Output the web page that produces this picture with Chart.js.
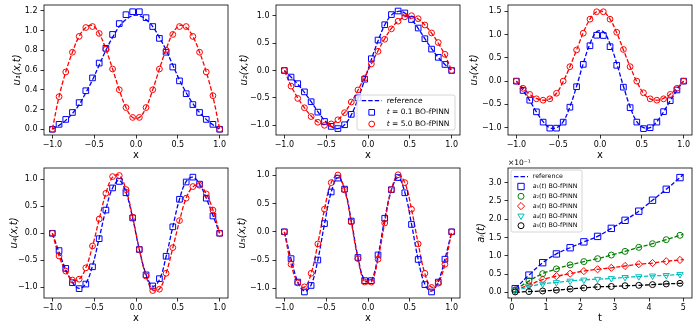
<!DOCTYPE html>
<html><head><meta charset="utf-8">
<script src="https://cdn.jsdelivr.net/npm/chart.js@4.4.1/dist/chart.umd.min.js"></script>
<style>
html,body{margin:0;padding:0;background:#fff;width:698px;height:329px;overflow:hidden;position:relative;}
canvas{position:absolute;}
</style></head><body>
<canvas id="c1"></canvas><canvas id="c2"></canvas><canvas id="c3"></canvas>
<canvas id="c4"></canvas><canvas id="c5"></canvas><canvas id="c6"></canvas>
<script>
// ---------- data ----------
const xGrid = [-1.0,-0.92,-0.84,-0.76,-0.68,-0.6,-0.52,-0.44,-0.36,-0.28,-0.2,-0.12,-0.04,0.04,0.12,0.2,0.28,0.36,0.44,0.52,0.6,0.68,0.76,0.84,0.92,1.0];

const u1_t01 = [0.00,0.05,0.10,0.17,0.27,0.39,0.52,0.67,0.82,0.96,1.07,1.16,1.19,1.19,1.13,1.04,0.92,0.78,0.63,0.49,0.36,0.25,0.17,0.10,0.05,0.00];
const u1_t5  = [0.00,0.33,0.58,0.78,0.94,1.03,1.04,0.97,0.81,0.61,0.40,0.22,0.12,0.12,0.22,0.40,0.61,0.80,0.96,1.04,1.04,0.94,0.78,0.58,0.34,0.00];
const u1_ref01 = [0.00,0.04,0.09,0.16,0.25,0.37,0.50,0.65,0.80,0.93,1.04,1.11,1.15,1.15,1.11,1.04,0.93,0.80,0.65,0.50,0.37,0.26,0.17,0.10,0.045,0.00];
const u1_ref5  = [0.00,0.33,0.58,0.78,0.94,1.03,1.05,0.97,0.81,0.61,0.40,0.22,0.12,0.12,0.22,0.40,0.61,0.81,0.97,1.05,1.03,0.94,0.78,0.58,0.33,0.00];

const u2_t01 = [0,-0.12,-0.24,-0.39,-0.57,-0.76,-0.93,-1.02,-1.06,-0.99,-0.80,-0.50,-0.16,0.215,0.556,0.835,1.02,1.085,1.05,0.93,0.775,0.58,0.39,0.24,0.11,0];
const u2_t5  = [0,-0.285,-0.51,-0.68,-0.84,-0.945,-1.0,-0.975,-0.90,-0.77,-0.575,-0.355,-0.14,0.12,0.35,0.57,0.76,0.90,0.98,1.0,0.945,0.83,0.685,0.51,0.295,0];
const u2_ref01 = [0,-0.12,-0.25,-0.40,-0.57,-0.75,-0.91,-1.02,-1.06,-0.99,-0.81,-0.52,-0.17,0.20,0.54,0.83,1.01,1.08,1.05,0.93,0.77,0.58,0.40,0.24,0.11,0];
const u2_ref5  = [0,-0.28,-0.50,-0.68,-0.83,-0.94,-0.99,-0.98,-0.90,-0.77,-0.58,-0.36,-0.12,0.12,0.36,0.58,0.77,0.90,0.98,0.99,0.94,0.83,0.68,0.50,0.28,0];

const u3_t01 = [0,-0.20,-0.41,-0.66,-0.88,-1.01,-1.01,-0.88,-0.56,-0.12,0.36,0.76,0.985,0.98,0.74,0.34,-0.13,-0.57,-0.88,-1.02,-1.0,-0.88,-0.655,-0.42,-0.19,0];
const u3_t5  = [0,-0.155,-0.285,-0.38,-0.41,-0.38,-0.26,0.0,0.31,0.67,1.03,1.33,1.49,1.49,1.33,1.05,0.68,0.31,0.0,-0.25,-0.38,-0.41,-0.38,-0.285,-0.155,0];
const u3_ref01 = [0,-0.20,-0.42,-0.66,-0.87,-1.0,-1.0,-0.87,-0.55,-0.11,0.38,0.80,1.06,1.06,0.80,0.38,-0.11,-0.55,-0.87,-1.0,-1.0,-0.87,-0.66,-0.42,-0.20,0];
const u3_ref5  = [0,-0.15,-0.28,-0.37,-0.41,-0.38,-0.26,-0.01,0.31,0.67,1.04,1.33,1.49,1.49,1.33,1.04,0.67,0.31,-0.01,-0.26,-0.38,-0.41,-0.37,-0.28,-0.15,0];

const u4_t01 = [0,-0.32,-0.65,-0.915,-1.025,-0.94,-0.62,-0.10,0.43,0.84,0.96,0.75,0.285,-0.30,-0.77,-0.975,-0.84,-0.425,0.12,0.63,0.95,1.04,0.91,0.65,0.32,0];
const u4_t5  = [0,-0.42,-0.70,-0.865,-0.85,-0.64,-0.235,0.265,0.74,1.05,1.07,0.81,0.30,-0.30,-0.79,-1.06,-1.035,-0.74,-0.265,0.235,0.65,0.865,0.89,0.73,0.43,0];
const u4_ref01 = [0,-0.35,-0.67,-0.91,-1.02,-0.93,-0.60,-0.09,0.44,0.84,0.98,0.76,0.28,-0.30,-0.76,-0.98,-0.86,-0.43,0.12,0.63,0.96,1.04,0.91,0.65,0.33,0];
const u4_ref5  = [0,-0.42,-0.70,-0.86,-0.85,-0.64,-0.24,0.26,0.74,1.04,1.07,0.81,0.30,-0.30,-0.79,-1.05,-1.03,-0.74,-0.27,0.23,0.65,0.86,0.89,0.73,0.43,0];

const u5_t01 = [0,-0.475,-0.89,-1.065,-0.95,-0.50,0.145,0.705,0.95,0.755,0.19,-0.455,-0.865,-0.865,-0.41,0.24,0.745,0.96,0.69,0.13,-0.49,-0.935,-1.065,-0.89,-0.485,0];
const u5_t5  = [0,-0.575,-0.905,-0.975,-0.735,-0.215,0.40,0.87,1.005,0.74,0.175,-0.475,-0.89,-0.89,-0.485,0.155,0.745,1.01,0.87,0.40,-0.215,-0.735,-0.985,-0.91,-0.575,0];
const u5_ref01 = [0,-0.48,-0.88,-1.05,-0.94,-0.50,0.14,0.70,0.96,0.76,0.20,-0.45,-0.86,-0.86,-0.42,0.23,0.74,0.96,0.70,0.14,-0.49,-0.93,-1.05,-0.88,-0.48,0];
const u5_ref5  = [0,-0.57,-0.90,-0.98,-0.74,-0.21,0.40,0.87,1.00,0.74,0.17,-0.48,-0.89,-0.89,-0.48,0.16,0.75,1.00,0.87,0.40,-0.21,-0.74,-0.98,-0.90,-0.57,0];

const tGrid = [0.1,0.5,0.9,1.3,1.7,2.1,2.5,2.9,3.3,3.7,4.1,4.5,4.9];
const tRef  = [0.1,0.5,0.9,1.3,1.7,2.1,2.5,2.9,3.3,3.7,4.1,4.5,4.9,5.0];
const a1 = [0.10,0.47,0.81,1.05,1.22,1.38,1.53,1.75,1.97,2.22,2.52,2.82,3.14];
const a2 = [0.064,0.31,0.51,0.64,0.75,0.84,0.92,1.02,1.12,1.23,1.33,1.44,1.56];
const a3 = [0.055,0.20,0.35,0.44,0.51,0.58,0.63,0.67,0.72,0.77,0.80,0.85,0.885];
const a4 = [0.036,0.15,0.23,0.27,0.31,0.34,0.36,0.38,0.41,0.43,0.45,0.465,0.49];
const a5 = [0.01,0.02,0.036,0.06,0.09,0.12,0.15,0.16,0.18,0.19,0.21,0.23,0.245];
const a1_ref = [0.10,0.47,0.81,1.05,1.22,1.38,1.53,1.75,1.97,2.22,2.52,2.82,3.14,3.23];
const a2_ref = [0.064,0.31,0.51,0.64,0.75,0.84,0.92,1.02,1.12,1.23,1.33,1.44,1.56,1.59];
const a3_ref = [0.055,0.20,0.35,0.44,0.51,0.58,0.63,0.67,0.72,0.77,0.80,0.85,0.885,0.90];
const a4_ref = [0.036,0.15,0.23,0.27,0.31,0.34,0.36,0.38,0.41,0.43,0.45,0.465,0.49,0.50];
const a5_ref = [0.00,0.02,0.036,0.06,0.09,0.12,0.15,0.16,0.18,0.19,0.21,0.23,0.245,0.25];

const xTicksU = [-1.0,-0.5,0.0,0.5,1.0];
const yTicks1 = [0.0,0.2,0.4,0.6,0.8,1.0,1.2];
const yTicks2 = [-1.0,-0.5,0.0,0.5,1.0];
const yTicks3 = [-1.0,-0.5,0.0,0.5,1.0,1.5];
const xTicksT = [0,1,2,3,4,5];
const yTicksA = [0.0,0.5,1.0,1.5,2.0,2.5,3.0];

const yLabels = ['u₁(x,t)','u₂(x,t)','u₃(x,t)','u₄(x,t)','u₅(x,t)','aᵢ(t)'];
const xLabels = ['x','x','x','x','x','t'];
const legendText2 = ['reference', [['t','italic'],[' = 0.1 BO-fPINN','normal']], [['t','italic'],[' = 5.0 BO-fPINN','normal']]];
const legendText6 = ['reference',
  [['a','italic'],['₁','normal'],['(','normal'],['t','italic'],[') BO-fPINN','normal']],
  [['a','italic'],['₂','normal'],['(','normal'],['t','italic'],[') BO-fPINN','normal']],
  [['a','italic'],['₃','normal'],['(','normal'],['t','italic'],[') BO-fPINN','normal']],
  [['a','italic'],['₄','normal'],['(','normal'],['t','italic'],[') BO-fPINN','normal']],
  [['a','italic'],['₅','normal'],['(','normal'],['t','italic'],[') BO-fPINN','normal']]];
const offsetText6 = '×10⁻¹';

// ---------- styling / helpers ----------
const FONT = "'DejaVu Sans', sans-serif";
Chart.defaults.font.family = FONT;
const BLUE='#0000ff', RED='#ff0000', GREEN='#008000', CYAN='#00bfbf', BLACK='#000000';
const DASH=[4.5,2];
const TICK_SIZE=8, TITLE_SIZE=10;

function pts(xs, ys){ return xs.map((x,i)=>({x:x, y:ys[i]})); }
function refLine(xs, ys, color, order){
  return {data:pts(xs,ys), showLine:true, borderColor:color, borderWidth:1.3, borderDash:DASH,
    pointRadius:0, pointHoverRadius:0, tension:0.4, fill:false, order:order};
}
function marks(xs, ys, color, style, r, order, rot){
  return {data:pts(xs,ys), showLine:false, pointStyle:style, pointRadius:r, pointHoverRadius:r,
    pointBorderColor:color, pointBackgroundColor:'rgba(0,0,0,0)', pointBorderWidth:1,
    pointRotation:rot||0, borderColor:color, backgroundColor:'rgba(0,0,0,0)', order:order};
}
function fmt1(v){ const s=Math.abs(v).toFixed(1); return (v<-1e-9?'\u2212':'')+s; }
function fmt0(v){ return String(Math.round(v)); }

function drawMarker(ctx, style, x, y, r, color){
  ctx.save(); ctx.beginPath();
  if(style==='rect'){ const s=r*Math.SQRT1_2; ctx.rect(x-s,y-s,2*s,2*s); }
  else if(style==='circle'){ ctx.arc(x,y,r,0,Math.PI*2); }
  else if(style==='rectRot'){ ctx.moveTo(x,y-r); ctx.lineTo(x+r,y); ctx.lineTo(x,y+r); ctx.lineTo(x-r,y); ctx.closePath(); }
  else if(style==='triDown'){
    for(let k=0;k<3;k++){ const a=Math.PI+k*2*Math.PI/3; const px=x+Math.sin(a)*r, py=y-Math.cos(a)*r; if(k===0)ctx.moveTo(px,py); else ctx.lineTo(px,py);} ctx.closePath(); }
  ctx.strokeStyle=color; ctx.lineWidth=1; ctx.stroke(); ctx.restore();
}
function drawParts(ctx, parts, x, y, size){
  if(typeof parts==='string') parts=[[parts,'normal']];
  let cx=x;
  for(const [t,st] of parts){
    ctx.font=(st==='italic'?'italic ':'')+size+'px '+FONT;
    ctx.fillText(t,cx,y); cx+=ctx.measureText(t).width;
  }
}

const legendCfg = {};
const offsetCfg = {};

const framePlugin = {
  id:'mplFrame',
  afterDatasetsDraw(chart){
    const {ctx, chartArea:a} = chart;
    ctx.save(); ctx.strokeStyle='#000'; ctx.lineWidth=0.8;
    ctx.strokeRect(a.left,a.top,a.right-a.left,a.bottom-a.top); ctx.restore();
  }
};
const legendPlugin = {
  id:'mplLegend',
  afterDraw(chart){
    const ctx=chart.ctx, a=chart.chartArea, id=chart.canvas.id;
    const ot=offsetCfg[id];
    if(ot){ ctx.save(); ctx.fillStyle='#000'; ctx.textBaseline='alphabetic'; ctx.textAlign='left';
      ctx.font='7.5px '+FONT; ctx.fillText(ot, a.left, a.top-3); ctx.restore(); }
    const L=legendCfg[id]; if(!L) return;
    const x0 = L.anchor==='lr' ? a.right-L.dx-L.w : a.left+L.dx;
    const y0 = L.anchor==='lr' ? a.bottom-L.dy-L.h : a.top+L.dy;
    ctx.save();
    ctx.beginPath();
    if(ctx.roundRect) ctx.roundRect(x0,y0,L.w,L.h,2); else ctx.rect(x0,y0,L.w,L.h);
    ctx.fillStyle='rgba(255,255,255,0.8)'; ctx.fill();
    ctx.strokeStyle='#cccccc'; ctx.lineWidth=0.8; ctx.stroke();
    L.items.forEach((it,i)=>{
      const y=y0+L.first+i*L.rowH;
      if(it.kind==='line'){
        ctx.beginPath(); ctx.setLineDash(DASH); ctx.strokeStyle=it.color; ctx.lineWidth=1.3;
        ctx.moveTo(x0+L.l0,y); ctx.lineTo(x0+L.l1,y); ctx.stroke(); ctx.setLineDash([]);
      } else {
        drawMarker(ctx,it.style,x0+L.mx,y,it.r,it.color);
      }
      ctx.fillStyle='#000'; ctx.textBaseline='middle'; ctx.textAlign='left';
      drawParts(ctx,it.text,x0+L.tx,y,L.size);
    });
    ctx.restore();
  }
};

function makeChart(p){
  const cv=document.getElementById(p.id);
  const W=234, H=p.pt+130+28;
  cv.width=W; cv.height=H;
  cv.style.left=p.left+'px'; cv.style.top=p.top+'px';
  cv.style.width=W+'px'; cv.style.height=H+'px';
  if(p.legend) legendCfg[p.id]=p.legend;
  if(p.offsetText) offsetCfg[p.id]=p.offsetText;
  new Chart(cv,{
    type:'scatter',
    data:{datasets:p.datasets},
    options:{
      responsive:false, maintainAspectRatio:false, animation:false, events:[], devicePixelRatio:1,
      layout:{padding:{left:0,top:p.pt,right:6,bottom:0}},
      plugins:{legend:{display:false}, tooltip:{enabled:false}},
      scales:{
        x:{type:'linear', min:p.xMin, max:p.xMax,
          afterBuildTicks:s=>{ s.ticks=p.xTicks.map(v=>({value:v})); },
          afterFit:s=>{ s.height=28; s.paddingLeft=0; s.paddingRight=0; s.paddingTop=0; s.paddingBottom=0; },
          ticks:{autoSkip:false, maxRotation:0, minRotation:0, padding:2, color:'#000', font:{size:TICK_SIZE}, callback:v=>p.xFmt(v)},
          grid:{display:true, drawOnChartArea:false, drawTicks:true, tickLength:3.5, color:'#000', lineWidth:0.8},
          border:{display:false},
          title:{display:true, text:p.xlab, color:'#000', font:{size:TITLE_SIZE}, padding:{top:0,bottom:1.5}}
        },
        y:{type:'linear', min:p.yMin, max:p.yMax,
          afterBuildTicks:s=>{ s.ticks=p.yTicks.map(v=>({value:v})); },
          afterFit:s=>{ s.width=44; s.paddingLeft=0; s.paddingRight=0; s.paddingTop=0; s.paddingBottom=0; },
          ticks:{autoSkip:false, padding:3, color:'#000', font:{size:TICK_SIZE}, callback:v=>fmt1(v)},
          grid:{display:true, drawOnChartArea:false, drawTicks:true, tickLength:3.5, color:'#000', lineWidth:0.8},
          border:{display:false},
          title:{display:true, text:p.ylab, color:'#000', font:{size:TITLE_SIZE, style:'italic'}, padding:{top:p.ytp,bottom:0}}
        }
      }
    },
    plugins:[framePlugin, legendPlugin]
  });
}

function uSets(r01, r5, m01, m5){
  return [refLine(xGrid,r01,BLUE,4), refLine(xGrid,r5,RED,3), marks(xGrid,m01,BLUE,'rect',4,2), marks(xGrid,m5,RED,'circle',2.9,1)];
}

const R1=0, R2=150, C1=0, C2=232, C3=464;
makeChart({id:'c1', left:C1, top:R1, pt:5, xMin:-1.1, xMax:1.1, yMin:-0.058, yMax:1.258, xTicks:xTicksU, yTicks:yTicks1, xFmt:fmt1,
  xlab:xLabels[0], ylab:yLabels[0], ytp:11, datasets:uSets(u1_ref01,u1_ref5,u1_t01,u1_t5)});
makeChart({id:'c2', left:C2, top:R1, pt:5, xMin:-1.1, xMax:1.1, yMin:-1.177, yMax:1.195, xTicks:xTicksU, yTicks:yTicks2, xFmt:fmt1,
  xlab:xLabels[1], ylab:yLabels[1], ytp:6, datasets:uSets(u2_ref01,u2_ref5,u2_t01,u2_t5),
  legend:{anchor:'lr', dx:5, dy:5, w:98, h:35, first:5.7, rowH:11.65, mx:14.7, l0:4.7, l1:24.7, tx:29.7, size:7.5,
    items:[{kind:'line',color:BLUE,text:legendText2[0]},{kind:'pt',style:'rect',r:4,color:BLUE,text:legendText2[1]},{kind:'pt',style:'circle',r:2.9,color:RED,text:legendText2[2]}]}});
makeChart({id:'c3', left:C3, top:R1, pt:5, xMin:-1.1, xMax:1.1, yMin:-1.157, yMax:1.635, xTicks:xTicksU, yTicks:yTicks3, xFmt:fmt1,
  xlab:xLabels[2], ylab:yLabels[2], ytp:4, datasets:uSets(u3_ref01,u3_ref5,u3_t01,u3_t5)});
makeChart({id:'c4', left:C1, top:R2, pt:18, xMin:-1.1, xMax:1.1, yMin:-1.198, yMax:1.209, xTicks:xTicksU, yTicks:yTicks2, xFmt:fmt1,
  xlab:xLabels[3], ylab:yLabels[3], ytp:8, datasets:uSets(u4_ref01,u4_ref5,u4_t01,u4_t5)});
makeChart({id:'c5', left:C2, top:R2, pt:18, xMin:-1.1, xMax:1.1, yMin:-1.172, yMax:1.129, xTicks:xTicksU, yTicks:yTicks2, xFmt:fmt1,
  xlab:xLabels[4], ylab:yLabels[4], ytp:4, datasets:uSets(u5_ref01,u5_ref5,u5_t01,u5_t5)});
makeChart({id:'c6', left:C3, top:R2, pt:18, xMin:-0.11, xMax:5.25, yMin:-0.156, yMax:3.402, xTicks:xTicksT, yTicks:yTicksA, xFmt:fmt0,
  xlab:xLabels[5], ylab:yLabels[5], ytp:11.5, offsetText:offsetText6,
  datasets:[
    refLine(tRef,a1_ref,BLUE,10), refLine(tRef,a2_ref,GREEN,9), refLine(tRef,a3_ref,RED,8), refLine(tRef,a4_ref,CYAN,7), refLine(tRef,a5_ref,BLACK,6),
    marks(tGrid,a1,BLUE,'rect',4.5,5), marks(tGrid,a2,GREEN,'circle',3,4), marks(tGrid,a3,RED,'rectRot',3.6,3),
    marks(tGrid,a4,CYAN,'triangle',3.6,2,180), marks(tGrid,a5,BLACK,'circle',3,1)
  ],
  legend:{anchor:'ul', dx:3, dy:2, w:71, h:62, first:6.7, rowH:9.8, mx:10, l0:3, l1:17, tx:21.7, size:6.3,
    items:[{kind:'line',color:BLUE,text:legendText6[0]},
      {kind:'pt',style:'rect',r:4.5,color:BLUE,text:legendText6[1]},
      {kind:'pt',style:'circle',r:3,color:GREEN,text:legendText6[2]},
      {kind:'pt',style:'rectRot',r:3.6,color:RED,text:legendText6[3]},
      {kind:'pt',style:'triDown',r:3.6,color:CYAN,text:legendText6[4]},
      {kind:'pt',style:'circle',r:3,color:BLACK,text:legendText6[5]}]}});
</script>
</body></html>
